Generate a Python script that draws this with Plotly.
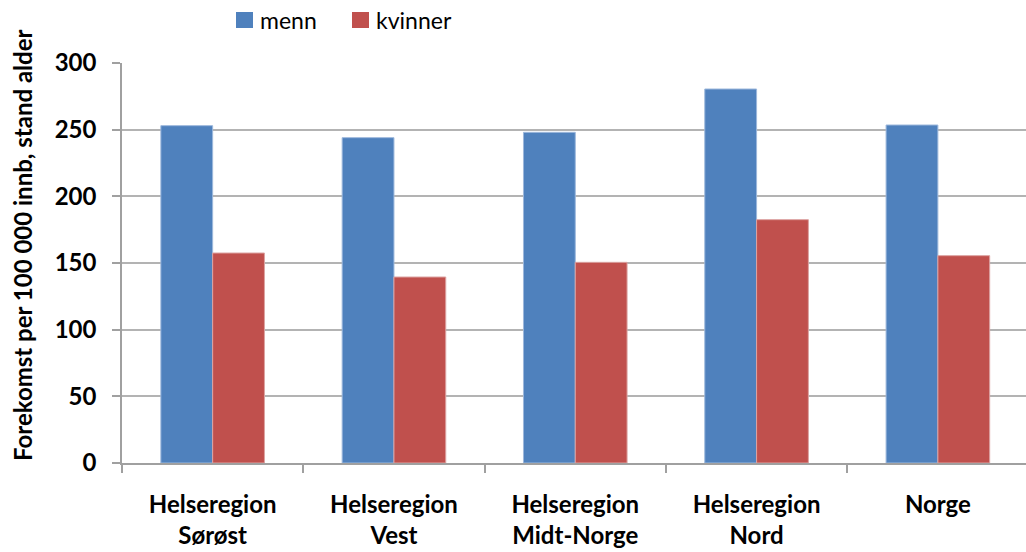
import plotly.graph_objects as go

# Health regions and age-standardised incidence per 100 000 inhabitants
regions = ["Helseregion<br>Sørøst", "Helseregion<br>Vest", "Helseregion<br>Midt-Norge",
           "Helseregion<br>Nord", "Norge"]
series_names = ["menn", "kvinner"]
menn = [253, 244, 248, 280.5, 253.5]
kvinner = [157.5, 139.5, 150.5, 182.5, 155.5]

y_ticks = [0, 50, 100, 150, 200, 250, 300]
y_title = "Forekomst per 100 000 innb, stand alder"

FONT = "Lato, Carlito, Calibri, sans-serif"
GRID = "#b3b3b3"
COLORS = ["#4F81BD", "#C0504D"]
EDGES = ["#9db8dc", "#dca3a2"]

# plot-area geometry in pixels (used to place legend/title in paper coords)
L, T, W, H = 122, 63, 904, 400


def px(xp):
    return (xp - L) / W


def py(yp):
    return (T + H - yp) / H


fig = go.Figure()
for name, vals, col, edge in zip(series_names, [menn, kvinner], COLORS, EDGES):
    fig.add_trace(go.Bar(
        name=name, x=regions, y=vals,
        marker=dict(color=col, line=dict(color=edge, width=1)),
    ))

# Legend drawn as coloured squares with labels above the plot area
legend_x = [236, 352]
for name, col, lx in zip(series_names, COLORS, legend_x):
    fig.add_shape(type="rect", xref="paper", yref="paper",
                  x0=px(lx), x1=px(lx + 17), y0=py(28), y1=py(12),
                  fillcolor=col, line=dict(width=0))
    fig.add_annotation(text=name, xref="paper", yref="paper",
                       x=px(lx + 22), y=py(20),
                       xanchor="left", yanchor="middle", showarrow=False,
                       font=dict(size=23, family=FONT, color="black"))

# Rotated y-axis title
fig.add_annotation(text=y_title, xref="paper", yref="paper",
                   x=px(22), y=py(246), textangle=-90,
                   xanchor="center", yanchor="middle", showarrow=False,
                   font=dict(size=24, family=FONT, color="black", weight="bold"))

fig.update_layout(
    width=1026, height=552,
    margin=dict(l=L, r=0, t=T, b=552 - T - H, autoexpand=False),
    paper_bgcolor="white", plot_bgcolor="white",
    barmode="group", bargap=0.4286, bargroupgap=0,
    font=dict(family=FONT, color="black"),
    showlegend=False,
    xaxis=dict(
        type="category", range=[-0.5, 4.486],
        showline=True, linecolor="#a0a0a0", linewidth=1.5,
        ticks="outside", tickson="boundaries", ticklen=8, tickcolor="#a0a0a0",
        tickwidth=1.5, ticklabelstandoff=19,
        tickfont=dict(size=24, family=FONT, color="black", weight="bold"),
        showgrid=False, automargin=False,
    ),
    yaxis=dict(
        range=[0, 300], tickvals=y_ticks,
        showline=True, linecolor="#a0a0a0", linewidth=1.5,
        ticks="outside", ticklen=8, tickcolor="#a0a0a0", tickwidth=1.5,
        ticklabelstandoff=11,
        tickfont=dict(size=24, family=FONT, color="black", weight="bold"),
        showgrid=True, gridcolor=GRID, gridwidth=1.5,
        zeroline=False, automargin=False,
    ),
)

fig.write_html("out.html")
